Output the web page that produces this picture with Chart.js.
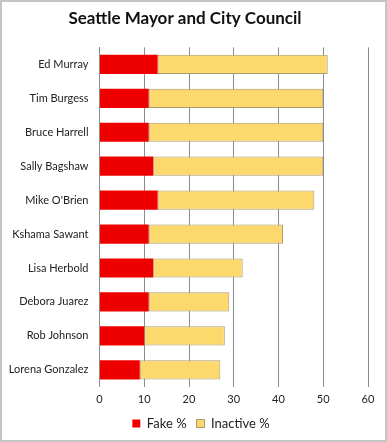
<!DOCTYPE html>
<html lang="en">
<head>
  <meta charset="UTF-8">
  <title>Seattle Mayor and City Council</title>
  <script src="https://cdn.jsdelivr.net/npm/chart.js"></script>
  <style>
    body {
      margin: 0;
      padding: 0;
      background: #fff;
    }

    .frame {
      width: 387px;
      height: 442px;
      box-sizing: border-box;
      border: 2px solid #c4c4c4;
      background: #fff;
    }

    .frame canvas {
      display: block;
    }
  </style>
</head>
<body>
  <div class="frame">
    <canvas id="councilChart" width="383" height="438"></canvas>
  </div>

  <script>
    // Data
    const names = [
      'Ed Murray', 'Tim Burgess', 'Bruce Harrell', 'Sally Bagshaw', "Mike O'Brien",
      'Kshama Sawant', 'Lisa Herbold', 'Debora Juarez', 'Rob Johnson', 'Lorena Gonzalez'
    ];
    const fakePct = [13, 11, 11, 12, 13, 11, 12, 11, 10, 9];
    const inactivePct = [38, 39, 39, 38, 35, 30, 20, 18, 18, 18];
    const xTicks = [0, 10, 20, 30, 40, 50, 60];

    const font = 'Lato, "Open Sans", sans-serif';

    // the legend in the reference sits a bit right of centre
    const legendShift = {
      id: 'legendShift',
      afterLayout(chart) {
        chart.legend.left += 16;
        chart.legend.right += 16;
      }
    };

    const ctx = document.getElementById('councilChart').getContext('2d');
    const councilChart = new Chart(ctx, {
      type: 'bar',
      data: {
        labels: names,
        datasets: [
          {
            label: 'Fake %',
            data: fakePct,
            backgroundColor: '#ee0000',
            borderColor: '#ee0000',
            borderWidth: 0,
            categoryPercentage: 0.565,
            barPercentage: 1.0
          },
          {
            label: 'Inactive %',
            data: inactivePct,
            backgroundColor: '#fdd86d',
            borderColor: '#a89b72',
            borderWidth: 1,
            borderSkipped: false,
            categoryPercentage: 0.565,
            barPercentage: 1.0
          }
        ]
      },
      plugins: [legendShift],
      options: {
        responsive: false,
        animation: false,
        indexAxis: 'y',
        layout: {
          padding: { left: 0, right: 17, top: 0, bottom: 0 }
        },
        scales: {
          x: {
            stacked: true,
            min: 0,
            max: 60,
            afterBuildTicks: (axis) => {
              axis.ticks = xTicks.map(v => ({ value: v }));
            },
            afterFit: (axis) => {
              axis.height = axis.height - 5;
            },
            grid: {
              color: '#8c8c8c',
              lineWidth: 1,
              tickLength: 0
            },
            border: { display: false },
            ticks: {
              color: '#222',
              padding: 6,
              font: { family: font, size: 11 }
            }
          },
          y: {
            stacked: true,
            grid: { display: false, tickLength: 0 },
            border: { display: true, color: '#8c8c8c', width: 1 },
            afterFit: (axis) => {
              axis.width = 97.5;
            },
            ticks: {
              color: '#222',
              padding: 11,
              font: { family: font, size: 11 }
            }
          }
        },
        plugins: {
          title: {
            display: true,
            text: 'Seattle Mayor and City Council',
            color: '#111',
            font: { family: font, size: 17, weight: 'bold' },
            padding: { top: 6, bottom: 19 }
          },
          legend: {
            position: 'bottom',
            labels: {
              color: '#222',
              boxWidth: 8,
              boxHeight: 8,
              padding: 10,
              font: { family: font, size: 13 }
            }
          },
          tooltip: { enabled: false }
        }
      }
    });
  </script>
</body>
</html>
